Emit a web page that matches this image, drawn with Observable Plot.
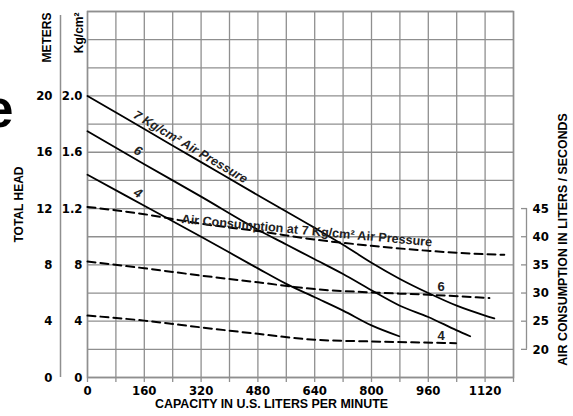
<!DOCTYPE html>
<html><head><meta charset="utf-8">
<script src="https://cdn.jsdelivr.net/npm/d3@7"></script>
<script src="https://cdn.jsdelivr.net/npm/@observablehq/plot@0.6"></script>
<style>
html,body{margin:0;padding:0;background:#fff;}
</style></head><body><div id="chart"></div>
<script>
// Head curves (capacity in U.S. liters/min, head in Kg/cm²)
const cap7  = [0, 160, 320, 480, 640, 720, 800, 880, 960, 1040, 1120, 1146];
const head7 = [2.0, 1.765, 1.53, 1.295, 1.063, 0.943, 0.815, 0.70, 0.60, 0.51, 0.44, 0.42];
const cap6  = [0, 160, 320, 480, 560, 640, 720, 800, 880, 960, 1040, 1078];
const head6 = [1.75, 1.515, 1.285, 1.05, 0.945, 0.84, 0.735, 0.62, 0.51, 0.43, 0.335, 0.293];
const cap4  = [0, 160, 320, 480, 560, 640, 720, 800, 878];
const head4 = [1.44, 1.22, 1.0, 0.775, 0.665, 0.57, 0.475, 0.37, 0.293];

// Air consumption curves (liters / second)
const airCap7 = [0, 160, 320, 480, 640, 800, 960, 1120, 1174];
const air7    = [45.3, 44.0, 42.3, 41.0, 39.5, 38.4, 37.5, 36.9, 36.8];
const airCap6 = [0, 160, 320, 480, 640, 800, 960, 1132];
const air6    = [35.6, 34.4, 33.1, 31.9, 30.7, 30.1, 29.7, 29.1];
const airCap4 = [0, 160, 320, 480, 640, 800, 1038];
const air4    = [26.0, 25.1, 23.9, 22.75, 21.7, 21.4, 21.1];

// Ticks and labels
const xGrid = [0, 80, 160, 240, 320, 400, 480, 560, 640, 720, 800, 880, 960, 1040, 1120, 1200];
const xLabels = [0, 160, 320, 480, 640, 800, 960, 1120];
const yGrid = [0, 0.2, 0.4, 0.6, 0.8, 1.0, 1.2, 1.4, 1.6, 1.8, 2.0, 2.2, 2.4, 2.6];
const kgTicks = [0, 0.4, 0.8, 1.2, 1.6, 2.0];
const kgLabels = ["0", "4", "8", "1.2", "1.6", "2.0"];
const meterLabels = ["0", "4", "8", "12", "16", "20"];
const airTicks = [20, 25, 30, 35, 40, 45];

// twin-axis mapping: 20 L/s ↔ 0.2, 45 L/s ↔ 1.2
const toKg = a => 0.2 + (a - 20) * 0.04;

const zipHead = (caps, heads, s) => caps.map((c, i) => ({cap: c, y: heads[i], s}));
const zipAir = (caps, airs, s) => caps.map((c, i) => ({cap: c, y: toKg(airs[i]), s}));
const headData = [...zipHead(cap7, head7, "7"), ...zipHead(cap6, head6, "6"), ...zipHead(cap4, head4, "4")];
const airData = [...zipAir(airCap7, air7, "7"), ...zipAir(airCap6, air6, "6"), ...zipAir(airCap4, air4, "4")];

const kgMap = new Map(kgTicks.map((t, i) => [t, kgLabels[i]]));
const mMap = new Map(kgTicks.map((t, i) => [t, meterLabels[i]]));
const xLabelSet = new Set(xLabels);
const airKg = airTicks.map(toKg);

const GRID = "#8f8f8f";
const SANS = "'Liberation Sans', Arial, Helvetica, sans-serif";
const NARROW = "'Liberation Sans Narrow', 'DejaVu Sans Condensed', sans-serif";

const chart = Plot.plot({
  width: 573,
  height: 416,
  marginLeft: 87,
  marginRight: 60,
  marginTop: 11,
  marginBottom: 39,
  style: {fontFamily: NARROW, fontSize: "13px", fontWeight: "bold", background: "#fff", color: "#000"},
  x: {domain: [0, 1200]},
  y: {domain: [0, 2.6]},
  marks: [
    Plot.gridX(xGrid, {stroke: GRID, strokeOpacity: 1, strokeWidth: 1.3}),
    Plot.gridY(yGrid, {stroke: GRID, strokeOpacity: 1, strokeWidth: 1.3}),
    Plot.frame({stroke: GRID, strokeWidth: 1.5}),
    Plot.axisX({ticks: xGrid, tickSize: 5, tickPadding: 3, stroke: GRID, strokeWidth: 1.3, label: null,
      tickFormat: d => xLabelSet.has(d) ? String(d) : "", fill: "#000"}),
    Plot.axisY({ticks: kgTicks, tickSize: 0, tickPadding: 5, label: null, tickFormat: d => kgMap.get(d), fill: "#000"}),
    Plot.axisY({ticks: kgTicks, tickSize: 0, tickPadding: 5, dx: -30, label: null, tickFormat: d => mMap.get(d), fill: "#000"}),
    Plot.ruleX([0], {y1: 0, y2: 2.6, dx: -27, insetBottom: -4, stroke: GRID, strokeWidth: 1.5}),
    Plot.axisY({anchor: "right", ticks: airKg, tickSize: 6, tickPadding: 6, dx: 7, label: null,
      stroke: GRID, strokeWidth: 1.3, fill: "#000",
      tickFormat: d => String(airTicks[airKg.findIndex(v => Math.abs(v - d) < 1e-9)])}),
    Plot.ruleX([1200], {y1: toKg(20), y2: toKg(45), dx: 13, stroke: GRID, strokeWidth: 1.3}),
    Plot.line(airData, {x: "cap", y: "y", z: "s", stroke: "#000", strokeWidth: 2, strokeDasharray: "8,5", curve: "monotone-x"}),
    Plot.line(headData, {x: "cap", y: "y", z: "s", stroke: "#000", strokeWidth: 1.8, curve: "monotone-x"}),
    // curve labels
    Plot.text(["7 Kg/cm² Air Pressure"], {x: 290, y: 1.638, rotate: 30.7, fontFamily: SANS, fontSize: 12.5, fontWeight: "bold", fontStyle: "italic", fill: "#222"}),
    Plot.text(["6"], {x: 142, y: 1.61, rotate: 30, fontFamily: SANS, fontSize: 13, fontWeight: "bold", fontStyle: "italic", fill: "#222"}),
    Plot.text(["4"], {x: 142, y: 1.31, rotate: 30, fontFamily: SANS, fontSize: 13, fontWeight: "bold", fontStyle: "italic", fill: "#222"}),
    Plot.text(["Air Consumption at 7 Kg/cm² Air Pressure"], {x: 618, y: 1.043, rotate: 5.3, fontFamily: SANS, fontSize: 12.6, fontWeight: "bold", fill: "#222"}),
    Plot.text(["6"], {x: 996, y: 0.645, fontFamily: SANS, fontSize: 13, fontWeight: "bold", fill: "#222"}),
    Plot.text(["4"], {x: 996, y: 0.298, fontFamily: SANS, fontSize: 13, fontWeight: "bold", fill: "#222"}),
    // axis titles
    Plot.text(["METERS"], {frameAnchor: "top-left", dx: -45, dy: 1, rotate: -90, textAnchor: "end", fontFamily: SANS, fontSize: 12, fontWeight: "bold"}),
    Plot.text(["Kg/cm²"], {frameAnchor: "top-left", dx: -13, dy: 1, rotate: -90, textAnchor: "end", fontFamily: SANS, fontSize: 12, fontWeight: "bold"}),
    Plot.text(["TOTAL HEAD"], {frameAnchor: "left", dx: -68, dy: 10, rotate: -90, textAnchor: "middle", fontFamily: SANS, fontSize: 12, fontWeight: "bold"}),
    Plot.text(["CAPACITY IN U.S. LITERS PER MINUTE"], {frameAnchor: "bottom", dx: -29, dy: 30, textAnchor: "middle", fontFamily: SANS, fontSize: 12.4, fontWeight: "bold"}),
    Plot.text(["AIR CONSUMPTION IN LITERS / SECONDS"], {frameAnchor: "right", dx: 50, dy: 45, rotate: -90, textAnchor: "middle", fontFamily: SANS, fontSize: 12.4, fontWeight: "bold"}),
    Plot.text(["e"], {frameAnchor: "top-left", dx: -74, dy: 115, textAnchor: "end", lineAnchor: "bottom", fontFamily: SANS, fontSize: 54, fontWeight: "bold"})
  ]
});
document.getElementById("chart").appendChild(chart);
</script>
</body></html>
